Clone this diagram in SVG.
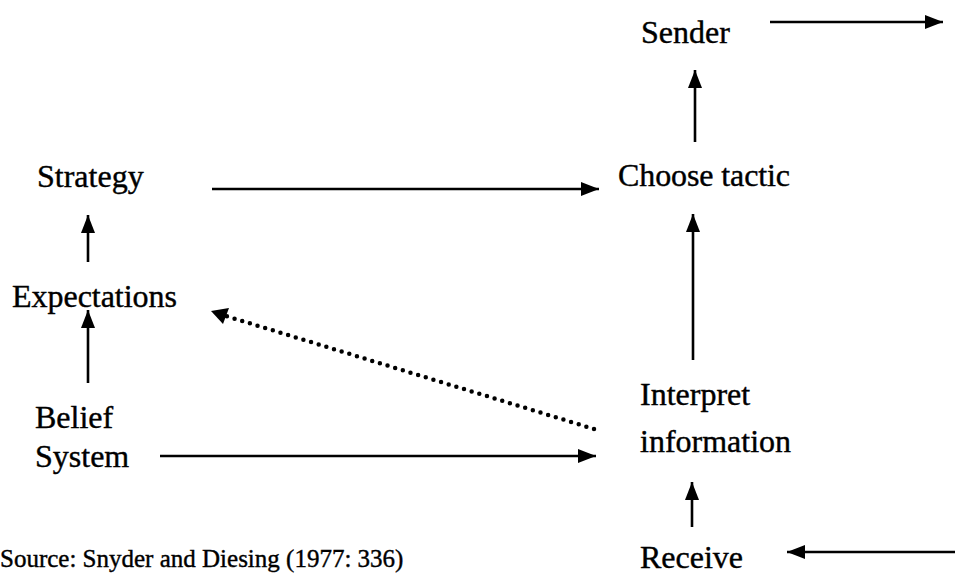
<svg xmlns="http://www.w3.org/2000/svg" width="955" height="575" viewBox="0 0 955 575">
<defs>
<marker id="ah" markerUnits="userSpaceOnUse" markerWidth="20" markerHeight="16" viewBox="0 0 20 16" refX="18" refY="8" orient="auto">
<path d="M0,1 L18,8 L0,15 Z" fill="#000"/>
</marker>
<style>
text{font-family:"Liberation Serif","Times New Roman",serif;font-size:32px;fill:#000;stroke:#000;stroke-width:0.4px}
.ln{stroke:#000;stroke-width:2.6;fill:none;marker-end:url(#ah)}
.dot{stroke:#000;stroke-width:4.5;fill:none;stroke-linecap:round;stroke-dasharray:0 8}
.src{font-size:25px}
</style>
</defs>
<rect width="955" height="575" fill="#fff"/>
<g id="sender"><text x="641" y="43">Sender</text></g>
<g id="strategy"><text x="37" y="187">Strategy</text></g>
<g id="choose-tactic"><text x="618" y="186" textLength="172">Choose tactic</text></g>
<g id="expectations"><text x="12" y="307" textLength="165">Expectations</text></g>
<g id="belief-system"><text x="35" y="428">Belief</text><text x="35" y="467">System</text></g>
<g id="interpret-information"><text x="640" y="405">Interpret</text><text x="640" y="452">information</text></g>
<g id="receive"><text x="640" y="568">Receive</text></g>
<g id="source"><text class="src" x="0" y="567">Source: Snyder and Diesing (1977: 336)</text></g>
<g id="connectors">
<line class="ln" x1="770" y1="22" x2="943" y2="22"/>
<line class="ln" x1="695" y1="142" x2="695" y2="70"/>
<line class="ln" x1="212" y1="189" x2="599" y2="189"/>
<line class="ln" x1="693" y1="360" x2="693" y2="214"/>
<line class="ln" x1="88" y1="262" x2="88" y2="215"/>
<line class="ln" x1="88" y1="383" x2="88" y2="310"/>
<line class="ln" x1="160" y1="456" x2="596" y2="456"/>
<line class="ln" x1="692" y1="527" x2="692" y2="482"/>
<line class="ln" x1="955" y1="552" x2="787" y2="552"/>
<line class="dot" x1="594" y1="429" x2="226" y2="316"/>
<path d="M211,311 L229,308 L223,324 Z" fill="#000"/>
</g>
</svg>
